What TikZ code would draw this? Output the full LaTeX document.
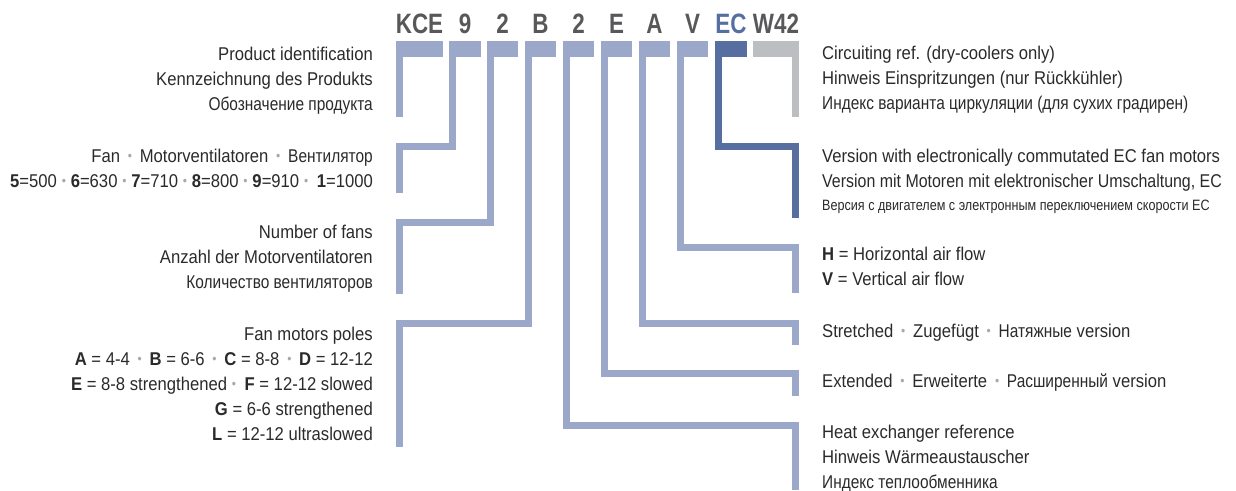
\documentclass[tikz,border=0pt]{standalone}
\usepackage{fontspec}
\usepackage{graphicx}
\setmainfont{Liberation Sans}[FakeStretch=0.9]
\newfontfamily\hdrfont{Liberation Sans}[FakeStretch=0.8]
\newfontfamily\smallfont{Liberation Sans}[FakeStretch=0.84]
\newfontfamily\ru{Liberation Sans}[FakeStretch=0.835]
\newfontfamily\narrowfont{Liberation Sans}[FakeStretch=0.862]
\definecolor{barblue}{HTML}{9BA8C9}
\definecolor{darkblue}{HTML}{566FA0}
\definecolor{bargray}{HTML}{BDBEC2}
\definecolor{hdrgray}{HTML}{58585A}
\definecolor{txtcol}{HTML}{2A2A2A}
\definecolor{sepgray}{HTML}{A8A8A8}
\newcommand{\wsep}{\hspace{0.42em}{\color{sepgray}\raisebox{0.1em}{\scalebox{0.72}{•}}}\hspace{0.42em}}
\newcommand{\nsep}{\hspace{0.26em}{\color{sepgray}\raisebox{0.1em}{\scalebox{0.72}{•}}}\hspace{0.26em}}
\begin{document}
\begin{tikzpicture}[x=1pt,y=-1pt,
  barbox/.style={rectangle, inner sep=0pt, outer sep=0pt, minimum height=16pt, anchor=north west, draw=none},
  conn/.style={line width=7pt, line join=miter},
  hdr/.style={font=\hdrfont\bfseries\fontsize{28}{28}\selectfont, text=hdrgray, inner sep=0pt, anchor=base},
  lt/.style={anchor=base east, inner sep=0pt, font=\fontsize{18.5}{20}\selectfont, text=txtcol},
  rt/.style={anchor=base west, inner sep=0pt, font=\fontsize{18.5}{20}\selectfont, text=txtcol},
  rtsmall/.style={anchor=base west, inner sep=0pt, font=\smallfont\fontsize{15}{16}\selectfont, text=txtcol}]
\useasboundingbox (0,0) rectangle (1236,490);

% header letters
\node[hdr] (hKCE) at (419.5,33) {KCE};
\node[hdr] (h9) at (465,33) {9};
\node[hdr] (h2a) at (502.5,33) {2};
\node[hdr] (hB) at (540.5,33) {B};
\node[hdr] (h2b) at (578.5,33) {2};
\node[hdr] (hE) at (616.5,33) {E};
\node[hdr] (hA) at (654.5,33) {A};
\node[hdr] (hV) at (692.5,33) {V};
\node[hdr, text=darkblue] (hEC) at (731,33) {EC};
\node[hdr] (hW) at (776,33) {W42};

% top bars
\node[barbox, fill=barblue, minimum width=47pt] (b1) at (396,41) {};
\node[barbox, fill=barblue, minimum width=32pt] (b2) at (449,41) {};
\node[barbox, fill=barblue, minimum width=31pt] (b3) at (487,41) {};
\node[barbox, fill=barblue, minimum width=31pt] (b4) at (525,41) {};
\node[barbox, fill=barblue, minimum width=31pt] (b5) at (563,41) {};
\node[barbox, fill=barblue, minimum width=31pt] (b6) at (601,41) {};
\node[barbox, fill=barblue, minimum width=31pt] (b7) at (639,41) {};
\node[barbox, fill=barblue, minimum width=31pt] (b8) at (677,41) {};
\node[barbox, fill=darkblue, minimum width=32pt] (b9) at (715,41) {};
\node[barbox, fill=bargray, minimum width=46pt] (b10) at (753,41) {};

% corner and end coordinates
\coordinate (e1) at (399.5,117);
\coordinate (k2a) at (452.5,146); \coordinate (k2b) at (399.5,146); \coordinate (e2) at (399.5,193);
\coordinate (k3a) at (490.5,222); \coordinate (k3b) at (399.5,222); \coordinate (e3) at (399.5,294);
\coordinate (k4a) at (528.5,323.5); \coordinate (k4b) at (399.5,323.5); \coordinate (e4) at (399.5,447);
\coordinate (k5a) at (566.5,425.5); \coordinate (k5b) at (795.5,425.5); \coordinate (e5) at (795.5,490);
\coordinate (k6a) at (604.5,373.5); \coordinate (k6b) at (795.5,373.5); \coordinate (e6) at (795.5,396);
\coordinate (k7a) at (642.5,323); \coordinate (k7b) at (795.5,323); \coordinate (e7) at (795.5,345);
\coordinate (k8a) at (680.5,247); \coordinate (k8b) at (795.5,247); \coordinate (e8) at (795.5,293);
\coordinate (k9a) at (718.5,146); \coordinate (k9b) at (795.5,146); \coordinate (e9) at (795.5,218);
\coordinate (e10) at (795.5,117);

% connectors
\draw[conn, draw=barblue] ([xshift=3.5pt,yshift=4pt]b1.south west) -- (e1);
\draw[conn, draw=barblue] ([xshift=3.5pt,yshift=4pt]b2.south west) -- (k2a) -- (k2b) -- (e2);
\draw[conn, draw=barblue] ([xshift=3.5pt,yshift=4pt]b3.south west) -- (k3a) -- (k3b) -- (e3);
\draw[conn, draw=barblue] ([xshift=3.5pt,yshift=4pt]b4.south west) -- (k4a) -- (k4b) -- (e4);
\draw[conn, draw=barblue] ([xshift=3.5pt,yshift=4pt]b5.south west) -- (k5a) -- (k5b) -- (e5);
\draw[conn, draw=barblue] ([xshift=3.5pt,yshift=4pt]b6.south west) -- (k6a) -- (k6b) -- (e6);
\draw[conn, draw=barblue] ([xshift=3.5pt,yshift=4pt]b7.south west) -- (k7a) -- (k7b) -- (e7);
\draw[conn, draw=barblue] ([xshift=3.5pt,yshift=4pt]b8.south west) -- (k8a) -- (k8b) -- (e8);
\draw[conn, draw=darkblue] ([xshift=3.5pt,yshift=4pt]b9.south west) -- (k9a) -- (k9b) -- (e9);
\draw[conn, draw=bargray] ([xshift=-3.5pt,yshift=4pt]b10.south east) -- (e10);

% left texts
\node[lt] (l1) at (373,60) {Product identification};
\node[lt] (l2) at (373,85) {Kennzeichnung des Produkts};
\node[lt] (l3) at (373,110) {\ru Обозначение продукта};
\node[lt] (l4) at (373,162) {Fan\wsep Motorventilatoren\wsep {\ru Вентилятор}};
\node[lt] (l5) at (373,187) {\textbf{5}=500\nsep\textbf{6}=630\nsep\textbf{7}=710\nsep\textbf{8}=800\nsep\textbf{9}=910\nsep\hspace{0.2em}\textbf{1}=1000};
\node[lt] (l6) at (373,238) {Number of fans};
\node[lt] (l7) at (373,263) {Anzahl der Motorventilatoren};
\node[lt] (l8) at (373,288) {\ru Количество вентиляторов};
\node[lt] (l9) at (373,340) {Fan motors poles};
\node[lt] (l10) at (373,365) {\textbf{A} = 4-4\wsep\textbf{B} = 6-6\wsep\textbf{C} = 8-8\wsep\textbf{D} = 12-12};
\node[lt] (l11) at (373,390) {\textbf{E} = 8-8 strengthened\nsep\hspace{0.2em}\textbf{F} = 12-12 slowed};
\node[lt] (l12) at (373,415) {\textbf{G} = 6-6 strengthened};
\node[lt] (l13) at (373,440) {\textbf{L} = 12-12 ultraslowed};

% right texts
\node[rt] (r1) at (822,59) {Circuiting ref. (dry-coolers only)};
\node[rt] (r2) at (822,84) {Hinweis Einspritzungen (nur Rückkühler)};
\node[rt] (r3) at (822,109) {\ru Индекс варианта циркуляции (для сухих градирен)};
\node[rt] (r4) at (822,162) {Version with electronically commutated EC fan motors};
\node[rt] (r5) at (822,187) {\narrowfont Version mit Motoren mit elektronischer Umschaltung, EC};
\node[rtsmall] (r6) at (822,210) {Версия с двигателем с электронным переключением скорости EC};
\node[rt] (r7) at (822,260) {\textbf{H} = Horizontal air flow};
\node[rt] (r8) at (822,285) {\textbf{V} = Vertical air flow};
\node[rt] (r9) at (822,337) {Stretched\wsep Zugefügt\wsep {\ru Натяжные} version};
\node[rt] (r10) at (822,387) {Extended\wsep Erweiterte\wsep {\ru Расширенный} version};
\node[rt] (r11) at (822,438) {Heat exchanger reference};
\node[rt] (r12) at (822,463) {Hinweis Wärmeaustauscher};
\node[rt] (r13) at (822,488) {\ru Индекс теплообменника};
\end{tikzpicture}
\end{document}
